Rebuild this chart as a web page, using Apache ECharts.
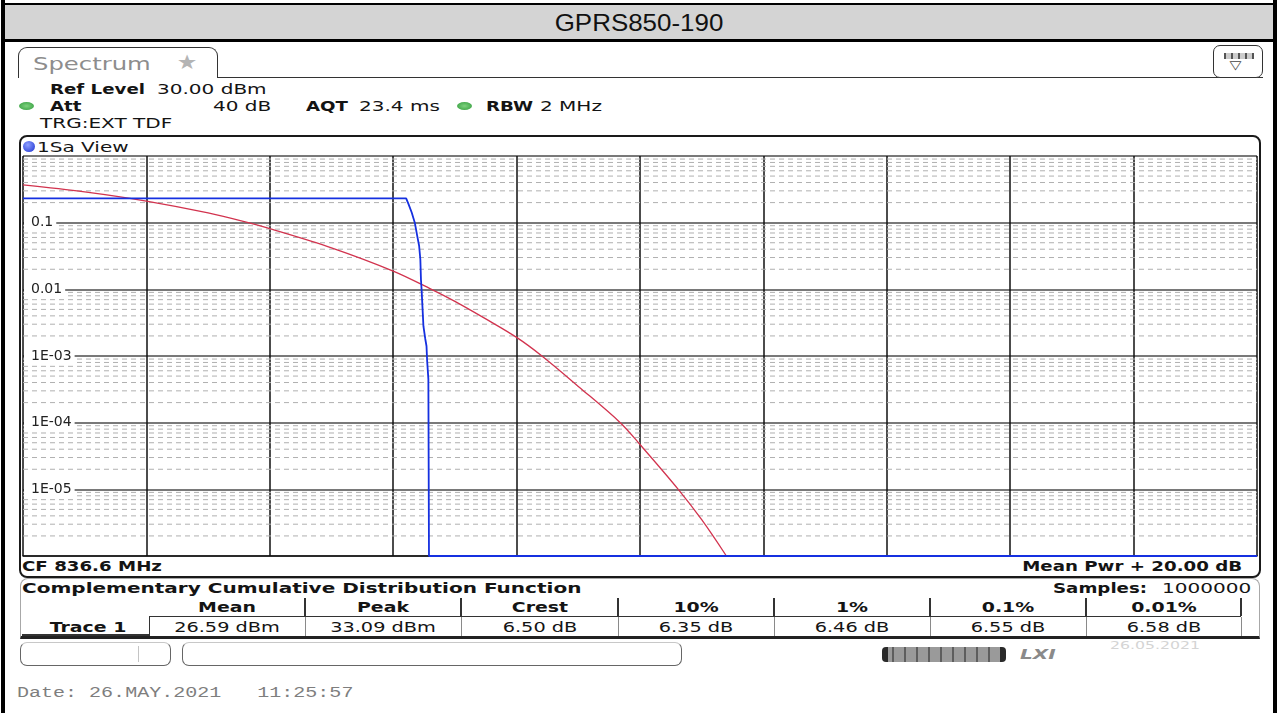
<!DOCTYPE html>
<html>
<head>
<meta charset="utf-8">
<title>GPRS850-190 CCDF</title>
<script src="https://cdn.jsdelivr.net/npm/echarts@6.0.0/dist/echarts.min.js"></script>
<style>
  html, body { margin: 0; padding: 0; }
  body { width: 1277px; height: 713px; overflow: hidden; position: relative; background: #fff; }
  .box { position: absolute; box-sizing: border-box; }
  .t { position: absolute; white-space: pre; font-family: "DejaVu Sans", sans-serif; font-size: 14px;
       line-height: 16px; height: 16px; color: #141414; transform-origin: 0 50%; transform: scaleX(1.43); }
  .b { font-weight: bold; transform: scaleX(1.3); }
  .c { transform-origin: 50% 50%; transform: translateX(-50%) scaleX(1.43); }
  .b.c { transform: translateX(-50%) scaleX(1.35); }
  .r { transform-origin: 100% 50%; }
  .sep { position: absolute; background: #333; width: 1.5px; }
  #chart { position: absolute; left: 0; top: 0; width: 1277px; height: 713px; z-index: 5; pointer-events: none; }
</style>
</head>
<body>
<!-- frame + title bar -->
<div class="box" style="left:1px;top:0;width:4px;height:713px;background:#000"></div>
<div class="box" style="left:1273px;top:0;width:4px;height:713px;background:#000"></div>
<div class="box" style="left:1px;top:3px;width:1276px;height:2px;background:#000"></div>
<div class="box" style="left:5px;top:5px;width:1268px;height:34px;background:#d4d4d4"></div>
<div class="box" style="left:1px;top:39px;width:1276px;height:3px;background:#000"></div>
<div style="position:absolute;left:639px;top:9px;height:28px;line-height:28px;white-space:nowrap;font-family:'Liberation Sans',Arial,sans-serif;font-size:24px;color:#111;transform-origin:50% 50%;transform:translateX(-50%) scaleX(1.08)">GPRS850-190</div>

<!-- Spectrum tab -->
<div class="box" style="left:18px;top:47px;width:200px;height:31px;border:1.5px solid #333;border-bottom:none;border-radius:9px 9px 0 0;background:#fff"></div>
<div class="box" style="left:217px;top:76.5px;width:1046px;height:1.5px;background:#333"></div>
<div class="t" style="left:33px;top:54px;font-size:17px;line-height:20px;height:20px;color:#8d8d8d">Spectrum</div>
<div style="position:absolute;left:178px;top:51px;font-family:'DejaVu Sans';font-size:20px;line-height:22px;color:#b4b4b4;transform:scaleX(1.15)">★</div>
<div class="box" style="left:1213px;top:45px;width:50px;height:33px;border:1.5px solid #333;border-radius:7px;background:#fff"></div>
<div class="box" style="left:1224px;top:53px;width:30px;height:6px;background:repeating-linear-gradient(90deg,#555 0 2px,#ccc 2px 7px)"></div>
<div style="position:absolute;left:1231px;top:58px;font-family:'DejaVu Sans';font-size:12px;line-height:14px;color:#444;transform:scaleX(1.3)">▽</div>

<!-- settings rows -->
<div class="t b" style="left:50px;top:81px">Ref Level</div>
<div class="t" style="left:157px;top:81px">30.00 dBm</div>
<div class="box" style="left:19px;top:102px;width:15px;height:8px;border-radius:50%;background:radial-gradient(#7fd27f,#2f9a3a)"></div>
<div class="t b" style="left:50px;top:98px">Att</div>
<div class="t" style="left:213px;top:98px">40 dB</div>
<div class="t b" style="left:306px;top:98px">AQT</div>
<div class="t" style="left:359px;top:98px">23.4 ms</div>
<div class="box" style="left:457px;top:102px;width:15px;height:8px;border-radius:50%;background:radial-gradient(#7fd27f,#2f9a3a)"></div>
<div class="t b" style="left:486px;top:98px">RBW</div>
<div class="t" style="left:540px;top:98px">2 MHz</div>
<div class="t" style="left:40px;top:115px">TRG:EXT TDF</div>

<!-- plot panel -->
<div class="box" style="left:19px;top:135px;width:1242px;height:443px;border:2px solid #1a1a1a;border-radius:8px;background:#fff"></div>
<div class="box" style="left:23px;top:141px;width:12px;height:11px;border-radius:50%;background:radial-gradient(circle at 40% 35%,#8fa0ff,#1a2fd0)"></div>
<div class="t" style="left:37px;top:138.5px">1Sa View</div>
<div class="t b" style="left:22px;top:558px">CF 836.6 MHz</div>
<div class="t b r" style="right:35px;top:558px">Mean Pwr + 20.00 dB</div>

<!-- CCDF result table -->
<div class="box" style="left:20px;top:578px;width:1240px;height:61px;border:1px solid #a8a8a8;border-bottom:3px solid #222;border-radius:8px 8px 0 0;background:#fff"></div>
<div class="t b" style="left:22px;top:580px;transform:scaleX(1.43)">Complementary Cumulative Distribution Function</div>
<div class="t b" style="left:1053px;top:580px">Samples:</div>
<div class="t" style="left:1162px;top:580px">1000000</div>
<div id="table"></div>

<!-- status bar -->
<div class="box" style="left:20px;top:642px;width:151px;height:24px;border:1px solid #666;border-top-color:#c8c8c8;border-radius:7px"></div>
<div class="box" style="left:138px;top:646px;width:1px;height:16px;background:#c4c4c4"></div>
<div class="box" style="left:182px;top:642px;width:500px;height:24px;border:1px solid #666;border-top-color:#c8c8c8;border-radius:7px"></div>
<div class="box" style="left:882px;top:647px;width:124px;height:15px;border-radius:4px;background:linear-gradient(90deg,#2a2a2a 0 6px,transparent 6px calc(100% - 6px),#2a2a2a calc(100% - 6px)),repeating-linear-gradient(90deg,#9a9a9a 0 10px,#5e5e5e 10px 12px)"></div>
<div style="position:absolute;left:1020px;top:646px;font-family:'DejaVu Sans';font-weight:bold;font-style:italic;font-size:14px;line-height:16px;color:#8a8a8a;transform-origin:0 50%;transform:scaleX(1.43)">LXI</div>
<div style="position:absolute;left:1110px;top:640px;font-family:'DejaVu Sans';font-size:11px;line-height:12px;color:#d4d4d4;transform-origin:0 50%;transform:scaleX(1.43)">26.05.2021</div>
<div class="t" style="left:17px;top:685px;font-family:'Liberation Mono',monospace;color:#7e7e7e">Date: 26.MAY.2021   11:25:57</div>

<div id="chart"></div>

<script>
// CCDF: x = dB above mean power, y = probability
const refDb   = [0, 1, 2, 3, 3.65, 4, 5, 6, 6.62, 7, 7.5, 8, 8.41, 9, 9.68, 10, 10.62, 11, 11.4]
const refProb = [0.37, 0.29, 0.211, 0.14, 0.1, 0.0815, 0.042, 0.0188, 0.01, 0.0066, 0.0036, 0.0019,
                 0.001, 0.00035, 0.0001, 0.000047, 0.00001, 0.0000035, 0.000001]

const traceDb   = [0, 6.21, 6.25, 6.30, 6.35, 6.39, 6.42, 6.44, 6.45, 6.46, 6.49, 6.52, 6.54, 6.55, 6.57, 6.58, 20]
const traceProb = [0.232, 0.232, 0.188, 0.142, 0.1, 0.063, 0.045, 0.028, 0.014, 0.01, 0.0028, 0.0018,
                   0.0014, 0.00085, 0.00045, 0.000001, 0.000001]

// y tick labels, index = -log10(value)
const yTickLabels = ['', '0.1', '0.01', '1E-03', '1E-04', '1E-05', '']
const minorSteps = [2, 3, 4, 5, 6, 7, 8, 9]

// result table
const colHeads  = ['Mean', 'Peak', 'Crest', '10%', '1%', '0.1%', '0.01%']
const colValues = ['26.59 dBm', '33.09 dBm', '6.50 dB', '6.35 dB', '6.46 dB', '6.55 dB', '6.58 dB']
const colEdges  = [149, 305, 461, 618, 774, 930, 1086, 1241]

// table markup
let html = ''
colHeads.forEach((h, i) => {
  const cx = (colEdges[i] + colEdges[i + 1]) / 2
  html += '<div class="t b c" style="left:' + cx + 'px;top:599px">' + h + '</div>'
  html += '<div class="t c" style="left:' + cx + 'px;top:619px;font-size:13.5px">' + colValues[i] + '</div>'
})
colEdges.forEach((x, i) => {
  if (i > 0) html += '<div class="sep" style="left:' + (x - 0.75) + 'px;top:598px;height:18px"></div>'
  html += '<div class="sep" style="left:' + (x - 0.5) + 'px;top:617px;height:19px;width:1px;background:' + (i === 0 ? '#333' : '#8a8a8a') + '"></div>'
})
html += '<div class="box" style="left:149px;top:615.5px;width:1092px;height:1.5px;background:#333"></div>'
html += '<div class="box" style="left:22px;top:634px;width:128px;height:2px;background:#333"></div>'
html += '<div class="t b c" style="left:88px;top:619px">Trace 1</div>'
document.getElementById('table').innerHTML = html

// minor log grid lines (2..9 per decade), drawn as broken line segments
const minorData = []
for (let e = -6; e < 0; e++) {
  minorSteps.forEach(m => {
    const v = m * Math.pow(10, e)
    minorData.push([0, v], [20, v], [20, null])
  })
}

const chart = echarts.init(document.getElementById('chart'))

const option = {
  backgroundColor: 'transparent',
  animation: false,
  grid: { left: 23, top: 156, width: 1234, height: 400, outerBoundsMode: 'none' },
  xAxis: {
    type: 'value',
    min: 0,
    max: 20,
    interval: 2,
    axisLabel: { show: false },
    axisTick: { show: false },
    axisLine: { show: true, onZero: false, lineStyle: { color: '#111', width: 1.5 } },
    splitLine: { show: true, lineStyle: { color: '#111', width: 1.5 } },
  },
  yAxis: [
    {
      type: 'log',
      logBase: 10,
      position: 'left',
      min: 0.000001,
      max: 1,
      axisLine: { show: false },
      axisTick: { show: false },
      axisLabel: { show: false },
      splitLine: { show: true, lineStyle: { color: '#4d4d4d', width: 1.5 } },
    },
    {
      // label-only copy of the axis so the white label boxes sit above the grid
      type: 'log',
      logBase: 10,
      position: 'left',
      offset: 0,
      min: 0.000001,
      max: 1,
      z: 6,
      axisLine: { show: false },
      axisTick: { show: false },
      splitLine: { show: false },
      axisLabel: {
        inside: true,
        margin: 1,
        showMinLabel: false,
        showMaxLabel: false,
        color: '#222',
        fontFamily: 'DejaVu Sans',
        fontSize: 14,
        backgroundColor: '#fff',
        padding: [2, 3, 1, 7],
        formatter: v => yTickLabels[Math.round(-Math.log10(v))] || '',
      },
    },
  ],
  series: [
    {
      name: 'minor grid',
      type: 'line',
      data: minorData,
      silent: true,
      showSymbol: false,
      connectNulls: false,
      z: 1,
      lineStyle: { type: [5, 4], color: '#b0b0b0', width: 1 },
    },
    {
      name: 'Gauss',
      type: 'line',
      data: refDb.map((d, i) => [d, refProb[i]]),
      smooth: 0.35,
      showSymbol: false,
      z: 3,
      lineStyle: { color: '#d2344f', width: 1.3 },
    },
    {
      name: 'Trace 1',
      type: 'line',
      data: traceDb.map((d, i) => [d, traceProb[i]]),
      showSymbol: false,
      clip: false,
      z: 4,
      lineStyle: { color: '#1530e0', width: 1.8 },
    },
  ],
}

chart.setOption(option)
</script>
</body>
</html>
